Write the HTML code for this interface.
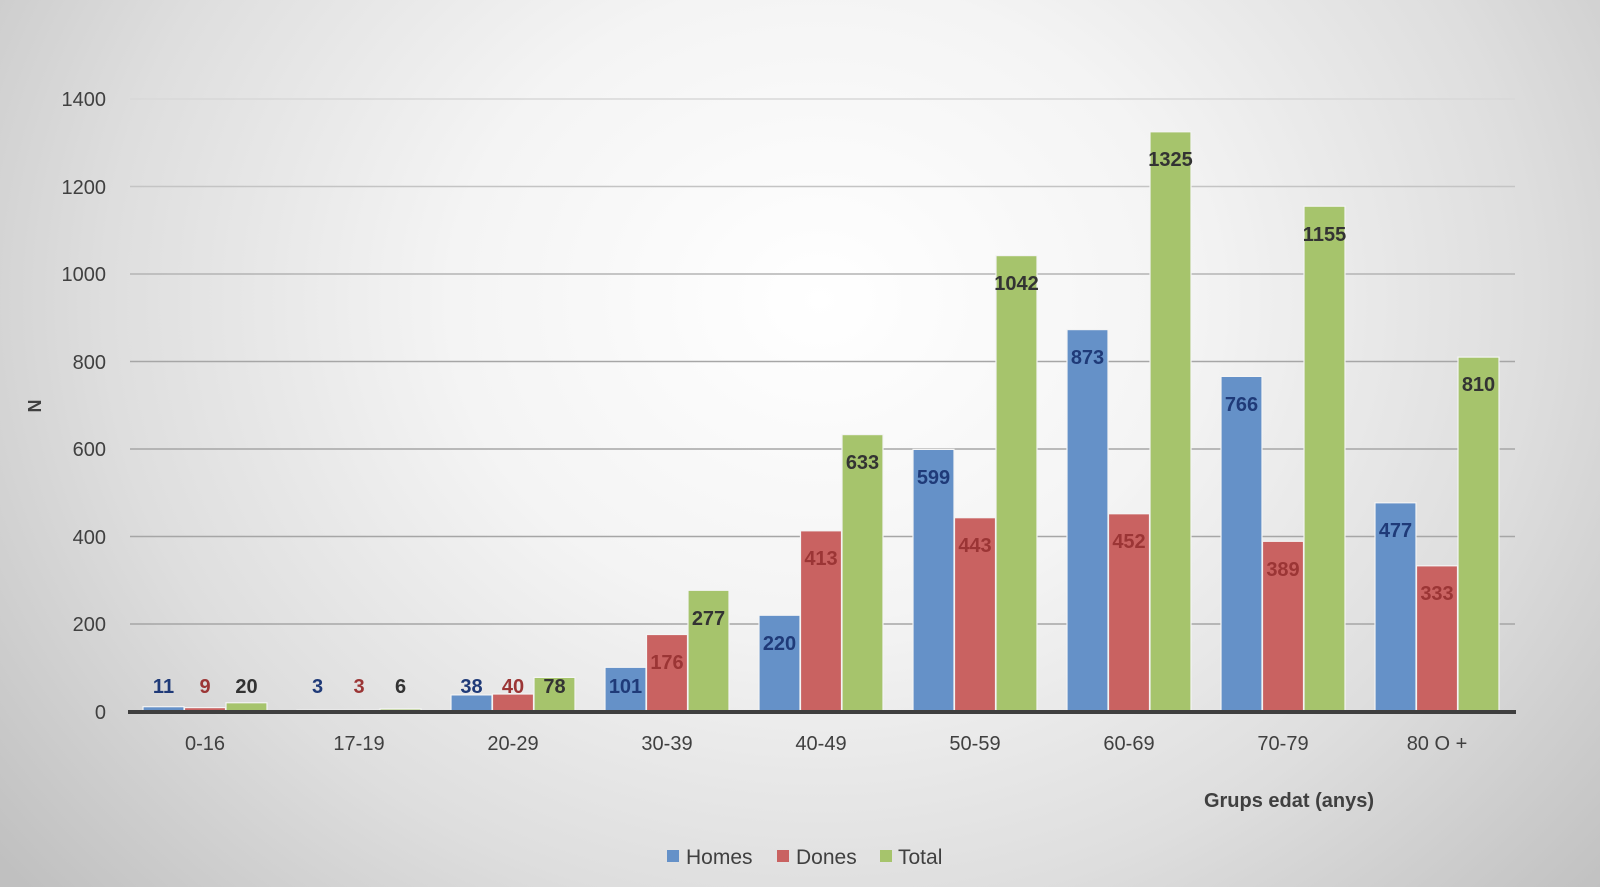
<!DOCTYPE html>
<html><head><meta charset="utf-8"><style>
html,body{margin:0;padding:0}
body{width:1600px;height:887px;overflow:hidden;background:radial-gradient(ellipse 1050px 900px at 820px 300px,#ffffff 0%,#f4f4f4 35%,#dedede 68%,#c0c0c0 100%);font-family:"Liberation Sans","DejaVu Sans",sans-serif}
svg{position:absolute;left:0;top:0}
</style></head><body>
<svg width="1600" height="887" viewBox="0 0 1600 887">
<g stroke="#a6a6a6" stroke-width="1.6">
<line x1="130" x2="1515" y1="99" y2="99" stroke="#d8d8d8"/>
<line x1="130" x2="1515" y1="186.5" y2="186.5" stroke="#c4c4c4"/>
<line x1="130" x2="1515" y1="274" y2="274" stroke="#b4b4b4"/>
<line x1="130" x2="1515" y1="361.5" y2="361.5"/>
<line x1="130" x2="1515" y1="449" y2="449"/>
<line x1="130" x2="1515" y1="536.5" y2="536.5"/>
<line x1="130" x2="1515" y1="624" y2="624"/>
</g>
<g font-size="20" fill="#404040" text-anchor="end">
<text x="106" y="106">1400</text><text x="106" y="194">1200</text><text x="106" y="281">1000</text>
<text x="106" y="369">800</text><text x="106" y="456">600</text><text x="106" y="544">400</text>
<text x="106" y="631">200</text><text x="106" y="719">0</text>
</g>
<text transform="translate(41,406) rotate(-90)" font-size="18" font-weight="bold" fill="#404040" text-anchor="middle">N</text>
<g stroke="#f4f4f4" stroke-width="1.2">
<g fill="#6591c8">
<rect x="143" y="706.7" width="41" height="4.8"/><rect x="297" y="710.2" width="41" height="1.3"/>
<rect x="451" y="694.9" width="41" height="16.6"/><rect x="605" y="667.3" width="41" height="44.2"/>
<rect x="759" y="615.25" width="41" height="96.25"/><rect x="913" y="449.4" width="41" height="262.1"/>
<rect x="1067" y="329.6" width="41" height="381.9"/><rect x="1221" y="376.4" width="41" height="335.1"/>
<rect x="1375" y="502.8" width="41" height="208.7"/>
</g>
<g fill="#c96261">
<rect x="184.5" y="707.6" width="41" height="3.9"/><rect x="338.5" y="710.2" width="41" height="1.3"/>
<rect x="492.5" y="694" width="41" height="17.5"/><rect x="646.5" y="634.5" width="41" height="77"/>
<rect x="800.5" y="530.8" width="41" height="180.7"/><rect x="954.5" y="517.7" width="41" height="193.8"/>
<rect x="1108.5" y="513.75" width="41" height="197.75"/><rect x="1262.5" y="541.3" width="41" height="170.2"/>
<rect x="1416.5" y="565.8" width="41" height="145.7"/>
</g>
<g fill="#a6c46c">
<rect x="226" y="702.75" width="41" height="8.75"/><rect x="380" y="708.9" width="41" height="2.6"/>
<rect x="534" y="677.4" width="41" height="34.1"/><rect x="688" y="590.3" width="41" height="121.2"/>
<rect x="842" y="434.6" width="41" height="276.9"/><rect x="996" y="255.6" width="41" height="455.9"/>
<rect x="1150" y="131.8" width="41" height="579.7"/><rect x="1304" y="206.2" width="41" height="505.3"/>
<rect x="1458" y="357.1" width="41" height="354.4"/>
</g>
</g>
<line x1="128" x2="1516" y1="712" y2="712" stroke="#3f3f3f" stroke-width="4"/>
<g font-size="20" font-weight="bold" text-anchor="middle">
<g fill="#1f3a78">
<text x="163.5" y="693">11</text><text x="317.5" y="693">3</text><text x="471.5" y="693">38</text>
<text x="625.5" y="693">101</text><text x="779.5" y="650">220</text><text x="933.5" y="484">599</text>
<text x="1087.5" y="364">873</text><text x="1241.5" y="411">766</text><text x="1395.5" y="537">477</text>
</g>
<g fill="#9b3535">
<text x="205" y="693">9</text><text x="359" y="693">3</text><text x="513" y="693">40</text>
<text x="667" y="669">176</text><text x="821" y="565">413</text><text x="975" y="552">443</text>
<text x="1129" y="548">452</text><text x="1283" y="576">389</text><text x="1437" y="600">333</text>
</g>
<g fill="#333333">
<text x="246.5" y="693">20</text><text x="400.5" y="693">6</text><text x="554.5" y="693">78</text>
<text x="708.5" y="625">277</text><text x="862.5" y="469">633</text><text x="1016.5" y="290">1042</text>
<text x="1170.5" y="166">1325</text><text x="1324.5" y="241">1155</text><text x="1478.5" y="391">810</text>
</g>
</g>
<g font-size="20" fill="#404040" text-anchor="middle">
<text x="205" y="750">0-16</text><text x="359" y="750">17-19</text><text x="513" y="750">20-29</text>
<text x="667" y="750">30-39</text><text x="821" y="750">40-49</text><text x="975" y="750">50-59</text>
<text x="1129" y="750">60-69</text><text x="1283" y="750">70-79</text><text x="1437" y="750">80 O +</text>
</g>
<text x="1289" y="807" font-size="20" font-weight="bold" fill="#404040" text-anchor="middle">Grups edat (anys)</text>
<g font-size="21" fill="#404040">
<rect x="667" y="850" width="12" height="12" fill="#6591c8"/><text x="686" y="864">Homes</text>
<rect x="777" y="850" width="12" height="12" fill="#c96261"/><text x="796" y="864">Dones</text>
<rect x="880" y="850" width="12" height="12" fill="#a6c46c"/><text x="898" y="864">Total</text>
</g>
</svg>
</body></html>
